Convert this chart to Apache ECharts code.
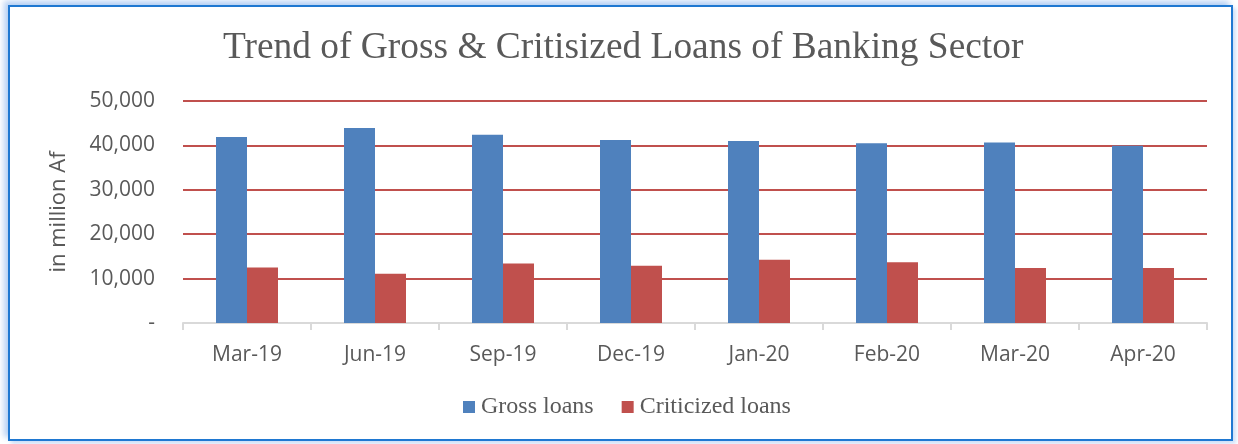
<!DOCTYPE html>
<html>
<head>
<meta charset="utf-8">
<script src="https://cdn.jsdelivr.net/npm/echarts@6/dist/echarts.min.js"></script>
<style>
  html, body { margin: 0; padding: 0; background: #ffffff; }
  #chart { position: absolute; left: 0; top: 0; width: 1238px; height: 444px; }
  #frame {
    position: absolute; left: 8px; top: 5px; width: 1225px; height: 436px;
    border: 2px solid #1f78d1; box-sizing: border-box; pointer-events: none;
    box-shadow: -4px -4px 6px rgba(120,170,235,0.55), 3px 3px 4px rgba(120,170,235,0.35);
  }
</style>
</head>
<body>
<div id="chart"></div>
<div id="frame"></div>
<script>
// Quarterly / monthly periods
const categories = ['Mar-19', 'Jun-19', 'Sep-19', 'Dec-19', 'Jan-20', 'Feb-20', 'Mar-20', 'Apr-20'];
// Loan volumes in million Af
const grossLoans = [41900, 43900, 42400, 41200, 41000, 40500, 40650, 39900];
const criticizedLoans = [12500, 11100, 13400, 12900, 14250, 13700, 12400, 12400];
// Value axis ticks
const yTicks = [0, 10000, 20000, 30000, 40000, 50000];

const textColor = '#595959';
const chart = echarts.init(document.getElementById('chart'));
chart.setOption({
  animation: false,
  title: {
    text: 'Trend of Gross & Critisized Loans of Banking Sector',
    left: 218,
    top: 25,
    textStyle: { fontFamily: 'Liberation Serif', fontSize: 37.4, fontWeight: 'normal', color: textColor }
  },
  legend: {
    data: ['Gross loans', 'Criticized loans'],
    left: 458,
    top: 390,
    itemWidth: 12,
    itemHeight: 12,
    itemGap: 28,
    icon: 'rect',
    textStyle: { fontFamily: 'Liberation Serif', fontSize: 24, color: textColor, padding: [0, 0, 0, 1] }
  },
  grid: { left: 183, right: 31, top: 101, bottom: 121 },
  xAxis: {
    type: 'category',
    data: categories,
    axisLine: { lineStyle: { color: '#d9d9d9', width: 2 } },
    axisTick: { show: true, length: 7, lineStyle: { color: '#d9d9d9', width: 2 } },
    axisLabel: { fontFamily: 'Open Sans', fontSize: 21, color: textColor, margin: 22 }
  },
  yAxis: {
    type: 'value',
    min: yTicks[0],
    max: yTicks[yTicks.length - 1],
    interval: yTicks[1] - yTicks[0],
    name: 'in million Af',
    nameLocation: 'middle',
    nameGap: 113,
    nameTextStyle: { fontFamily: 'Open Sans', fontSize: 22, color: textColor },
    axisLine: { show: false },
    axisTick: { show: false },
    axisLabel: {
      fontFamily: 'Open Sans', fontSize: 21, color: textColor, margin: 28,
      formatter: v => v === 0 ? '-' : v.toLocaleString('en-US')
    },
    splitLine: { lineStyle: { color: '#c0504d', width: 2 } }
  },
  series: [
    {
      name: 'Gross loans', type: 'bar', data: grossLoans,
      barWidth: 31, barGap: '0%',
      itemStyle: { color: '#4f81bd' }
    },
    {
      name: 'Criticized loans', type: 'bar', data: criticizedLoans,
      barWidth: 31,
      itemStyle: { color: '#c0504d' }
    }
  ]
});
</script>
</body>
</html>
